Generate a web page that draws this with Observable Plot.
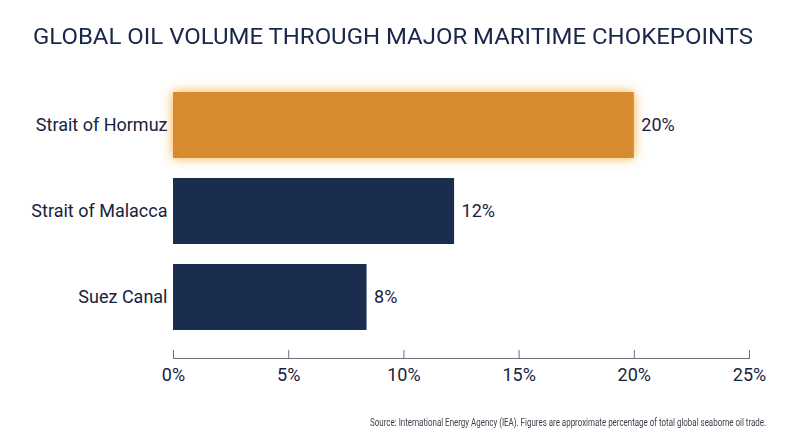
<!DOCTYPE html>
<html><head><meta charset="utf-8">
<script src="https://cdn.jsdelivr.net/npm/d3@7"></script>
<script src="https://cdn.jsdelivr.net/npm/@observablehq/plot@0.6"></script>
<style>
body{margin:0;background:#fff;font-family:Roboto,sans-serif;}
#wrap{position:relative;width:800px;height:447px;overflow:hidden;background:#fff;}
#title{position:absolute;left:33px;top:24px;font-size:22px;line-height:normal;color:#18274a;white-space:nowrap;transform-origin:left top;display:inline-block;}
#chart{position:absolute;left:0;top:60px;}
#caption{position:absolute;right:34px;top:417px;font-size:10px;line-height:normal;color:#3a3f4b;white-space:nowrap;transform-origin:right top;display:inline-block;}
</style>
</head><body>
<div id="wrap">
  <div id="title">GLOBAL OIL VOLUME THROUGH MAJOR MARITIME CHOKEPOINTS</div>
  <div id="chart"></div>
  <div id="caption">Source: International Energy Agency (IEA). Figures are approximate percentage of total global seaborne oil trade.</div>
</div>
<script>
const categories = ["Strait of Hormuz", "Strait of Malacca", "Suez Canal"];
const shares = [20, 12.2, 8.4];
const valueLabels = ["20%", "12%", "8%"];
const highlight = "Strait of Hormuz";
const xTicks = [0, 5, 10, 15, 20, 25];

const orange = "#d68c2e";
const navy = "#1b2d4e";
const textColor = "#18223d";
const gray = "#6b7280";

const data = categories.map((c, i) => ({category: c, share: shares[i], label: valueLabels[i]}));

const plot = Plot.plot({
  width: 800,
  height: 335,
  marginTop: 4,
  marginBottom: 37,
  marginLeft: 173,
  marginRight: 51,
  style: {fontFamily: "Roboto, sans-serif", fontSize: "18px", color: textColor, background: "transparent", overflow: "visible"},
  x: {domain: [0, 25], label: null},
  y: {domain: categories, paddingInner: 0.2326, paddingOuter: 0.326, round: false, label: null},
  marks: [
    Plot.barX(data.filter(d => d.category !== highlight), {x: "share", y: "category", fill: navy}),
    Plot.barX(data.filter(d => d.category === highlight), {x: "share", y: "category", fill: orange, className: "hl"}),
    Plot.text(data, {x: "share", y: "category", text: "label", dx: 7, textAnchor: "start", fill: textColor, fontSize: 18}),
    Plot.axisY({tickSize: 0, tickPadding: 6, fontSize: 18, fill: textColor, label: null}),
    Plot.axisX({ticks: xTicks, tickSize: 8, dy: -8, tickFormat: () => "", stroke: gray, label: null}),
    Plot.axisX({ticks: xTicks, tickSize: 0, tickPadding: 10, tickFormat: d => d + "%", fontSize: 18, fill: textColor, label: null}),
    Plot.frame({anchor: "bottom", stroke: gray})
  ]
});
plot.querySelectorAll("g.hl rect, .hl rect").forEach(r => {
  r.style.filter = "drop-shadow(0 0 6px rgba(248,168,50,0.95))";
});
document.getElementById("chart").appendChild(plot);

function fit(id, target) {
  const el = document.getElementById(id);
  const w = el.getBoundingClientRect().width;
  if (w > 0) el.style.transform = `scaleX(${target / w})`;
}
fit("title", 720);
fit("caption", 396);
</script>
</body></html>
